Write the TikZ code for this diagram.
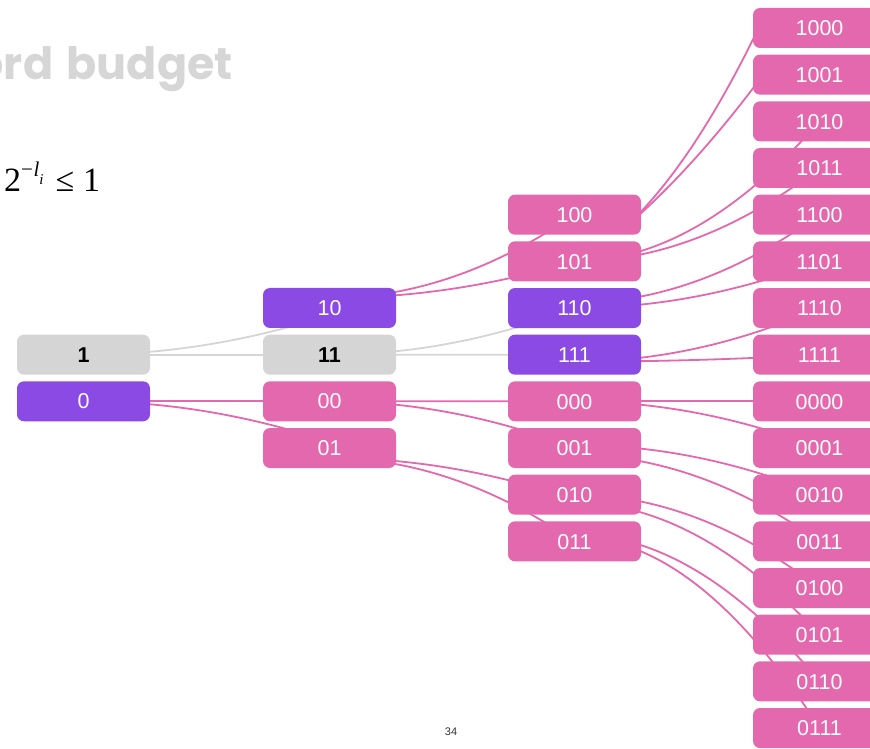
\documentclass[tikz,border=0pt]{standalone}
\usepackage{fontspec}
\newfontfamily\labelfont{Liberation Sans}
\newfontfamily\titlefont{Poppins}
\newfontfamily\formulafont{Liberation Serif}
\usetikzlibrary{calc,backgrounds}

\definecolor{codepink}{RGB}{228,104,173}
\definecolor{codeviolet}{RGB}{138,74,227}
\definecolor{codegray}{RGB}{213,213,213}
\definecolor{titlegray}{RGB}{214,214,214}
\definecolor{pagegray}{RGB}{51,51,51}

\tikzset{
  word/.style={rounded corners=7pt, minimum width=133pt, minimum height=40pt,
    inner sep=0pt, text height=15.4pt, text depth=0pt,
    font=\labelfont\fontsize{21.5}{21.5}\selectfont},
  pinkword/.style={word, fill=codepink, text=white},
  violetword/.style={word, fill=codeviolet, text=white},
  grayword/.style={word, fill=codegray, text=black,
    font=\labelfont\bfseries\fontsize{21.5}{21.5}\selectfont},
  % parabola leaving the parent horizontally and running into the child
  branch/.style={to path={let \p1=(\tikztostart), \p2=(\tikztotarget) in
      .. controls ({(2*\x1+\x2)/3},\y1) and ({(\x1+2*\x2)/3},{(2*\y1+\y2)/3}) .. (\tikztotarget)}},
  pinkedge/.style={draw=codepink, line width=1.8pt},
  grayedge/.style={draw=codegray, line width=1.8pt},
}

\begin{document}
\begin{tikzpicture}[x=1pt,y=1pt]
\useasboundingbox (0,0) rectangle (870,748);
\clip (0,0) rectangle (870,748);

% heading, inequality and page number
\node[anchor=base east, inner sep=0pt, text=titlegray,
      font=\titlefont\bfseries\fontsize{44.5}{44.5}\selectfont] (heading) at (233,668) {ord\hspace{4pt} budget};
\node[anchor=base west, inner sep=0pt, font=\formulafont\fontsize{34}{34}\selectfont] (kraft) at (4,556)
  {2\raisebox{15pt}{\fontsize{21}{21}\selectfont −\kern0.5pt\textit{l}}\raisebox{7pt}{\fontsize{15}{15}\selectfont\textit{i}}\hspace{12pt}≤\hspace{9pt}1};
\node[font=\labelfont\fontsize{11}{11}\selectfont, text=pagegray] (pageno) at (451,16) {34};

% depth 1
\node[grayword]   (n1) at (83.5,393.3) {1};
\node[violetword] (n0) at (83.5,346.7) {0};

% depth 2
\node[violetword] (n10) at (329.5,440)   {10};
\node[grayword]   (n11) at (329.5,393.3) {11};
\node[pinkword]   (n00) at (329.5,346.7) {00};
\node[pinkword]   (n01) at (329.5,300)   {01};

% depth 3
\foreach \lbl/\k/\sty in {100/4/pinkword, 101/5/pinkword, 110/6/violetword, 111/7/violetword,
                          000/8/pinkword, 001/9/pinkword, 010/10/pinkword, 011/11/pinkword}
  \node[\sty] (n\lbl) at (574.5,{720-46.667*\k}) {\lbl};

% depth 4
\foreach \lbl [count=\k from 0] in {1000,1001,1010,1011,1100,1101,1110,1111,
                                    0000,0001,0010,0011,0100,0101,0110,0111}
  \node[pinkword] (n\lbl) at (819.5,{720-46.667*\k}) {\lbl};

% connectors, behind the boxes
\begin{scope}[on background layer]
  \draw[grayedge] (n1.center) to[branch] ([yshift=-7pt]n10.center);
  \draw[grayedge] (n1.center) to[branch] (n11.center);
  \draw[grayedge] (n11.center) to[branch] (n110.center);
  \draw[grayedge] (n11.center) to[branch] (n111.center);

  \draw[pinkedge] (n0.center) to[branch] (n00.center);
  \draw[pinkedge] (n0.center) to[branch] ([yshift=6pt]n01.center);

  \draw[pinkedge] ([yshift=10pt]n10.center) to[branch] (n100.center);
  \draw[pinkedge] ([yshift=10pt]n10.center) to[branch] (n101.center);
  \draw[pinkedge] (n00.center) to[branch] (n000.center);
  \draw[pinkedge] (n00.center) to[branch] (n001.center);
  \draw[pinkedge] ([yshift=-10pt]n01.center) to[branch] ([yshift=-5pt]n010.center);
  \draw[pinkedge] ([yshift=-10pt]n01.center) to[branch] (n011.center);

  \draw[pinkedge] ([shift={(55.5,-8.1)}]n100.center)
     to[out=44, in=244.3, out distance=60.3pt, in distance=99.8pt] ([shift={(-59.5,2.9)}]n1000.center);
  \draw[pinkedge] ([shift={(55.5,-8.5)}]n100.center)
     to[out=41.3, in=233.6, out distance=59.9pt, in distance=75.9pt] ([shift={(-54.5,2.4)}]n1001.center);
  \draw[pinkedge] (n101.center) to[branch] (n1010.center);
  \draw[pinkedge] (n101.center) to[branch] (n1011.center);
  \draw[pinkedge] ([yshift=5pt]n110.center) to[branch] (n1100.center);
  \draw[pinkedge] (n110.center) to[branch] (n1101.center);
  \draw[pinkedge] ([yshift=-7pt]n111.center) to[branch] (n1110.center);
  \draw[pinkedge] ([yshift=-7pt]n111.center) to[branch] (n1111.center);
  \draw[pinkedge] (n000.center) to[branch] (n0000.center);
  \draw[pinkedge] (n000.center) to[branch] (n0001.center);
  \draw[pinkedge] ([yshift=3pt]n001.center) to[branch] (n0010.center);
  \draw[pinkedge] ([yshift=-7pt]n001.center) to[branch] (n0011.center);
  \draw[pinkedge] (n010.center) to[branch] (n0100.center);
  \draw[pinkedge] ([yshift=-8pt]n010.center) to[branch] (n0101.center);
  \draw[pinkedge] ([yshift=7pt]n011.center) to[branch] (n0110.center);
  \draw[pinkedge] ([yshift=4pt]n011.center) to[branch] (n0111.center);
\end{scope}
\end{tikzpicture}
\end{document}
